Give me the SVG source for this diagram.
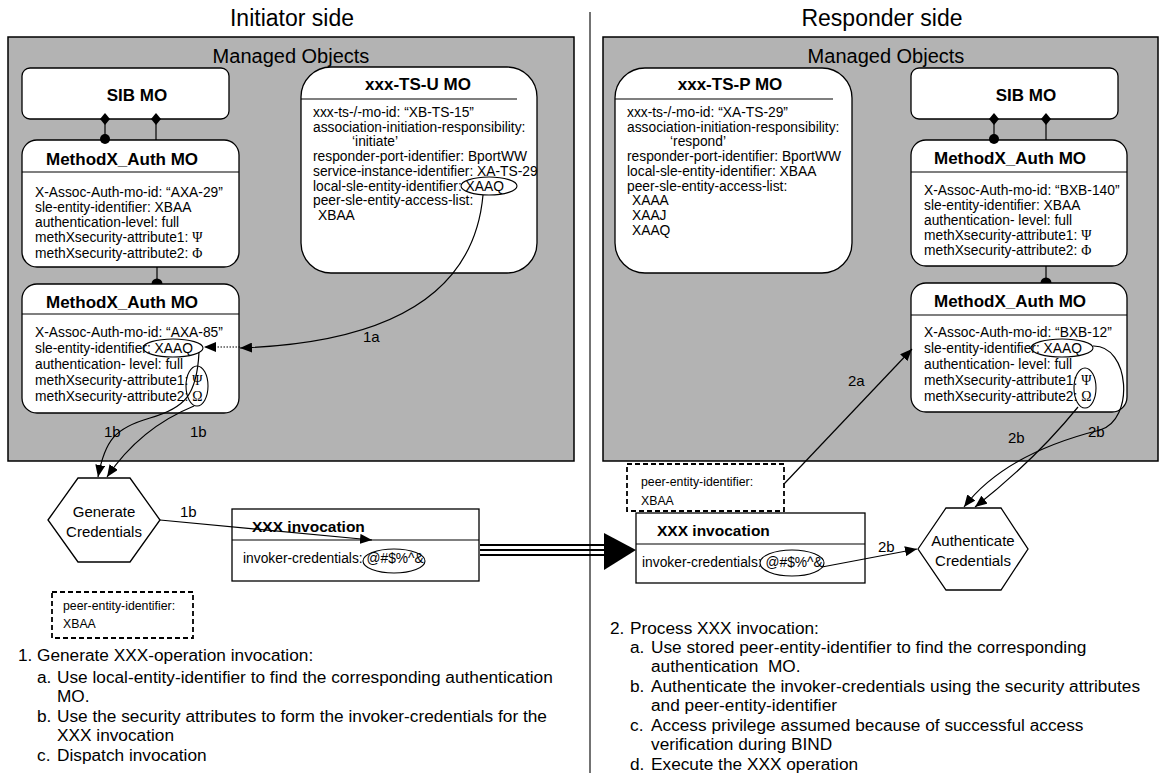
<svg xmlns="http://www.w3.org/2000/svg" width="1166" height="778" viewBox="0 0 1166 778">
<defs>
<style>
text{font-family:"Liberation Sans",Arial,Helvetica,sans-serif;fill:#000}
.title{font-size:23px}
.mo{font-size:20px}
.hd{font-size:17px;font-weight:bold}
.hd2{font-size:15.5px;font-weight:bold}
.b{font-size:13.8px}
.lab{font-size:15px}
.lst{font-size:17.25px}
.sm{font-size:12.3px}
.g{font-family:"Liberation Serif","Times New Roman",serif}
.panel{fill:#b3b3b3;stroke:#000;stroke-width:1.5}
.box{fill:#fff;stroke:#000;stroke-width:1.3}
.sep{stroke:#000;stroke-width:1.2}
.ell{fill:none;stroke:#000;stroke-width:1.1}
.c{fill:none;stroke:#000;stroke-width:1.2}
.dash{fill:#fff;stroke:#000;stroke-width:1.8;stroke-dasharray:5,3}
</style>
<marker id="ah" viewBox="0 0 12 10" refX="12" refY="5" markerWidth="12" markerHeight="10" markerUnits="userSpaceOnUse" orient="auto"><path d="M0,0 L12,5 L0,10 z"/></marker>
</defs>

<rect width="1166" height="778" fill="#fff"/>

<g id="titles">
<text class="title" x="292" y="26" text-anchor="middle">Initiator side</text>
<text class="title" x="882" y="26" text-anchor="middle">Responder side</text>
<line x1="590" y1="12" x2="590" y2="773" stroke="#444" stroke-width="1.5"/>
</g>

<g id="initiator-panel">
<rect class="panel" x="8" y="37" width="566" height="424"/>
<text class="mo" x="291" y="63" text-anchor="middle">Managed Objects</text>
</g>
<g id="responder-panel">
<rect class="panel" x="603" y="37" width="555" height="424"/>
<text class="mo" x="886" y="63" text-anchor="middle">Managed Objects</text>
</g>

<!-- Initiator side nodes -->
<g id="sib-mo-i">
<rect class="box" x="22" y="68" width="207" height="51" rx="8"/>
<text class="hd" x="137" y="101" text-anchor="middle">SIB MO</text>
</g>

<g id="methodx-auth-i1">
<rect class="box" x="22" y="140" width="217" height="127" rx="15"/>
<line class="sep" x1="22" y1="172" x2="239" y2="172"/>
<text class="hd" x="46" y="165">MethodX_Auth MO</text>
<text class="b" x="35" y="197">X-Assoc-Auth-mo-id: “AXA-29”</text>
<text class="b" x="35" y="212">sle-entity-identifier: XBAA</text>
<text class="b" x="35" y="227">authentication-level: full</text>
<text class="b" x="35" y="242">methXsecurity-attribute1: <tspan class="g">Ψ</tspan></text>
<text class="b" x="35" y="258">methXsecurity-attribute2: <tspan class="g">Φ</tspan></text>
</g>

<g id="methodx-auth-i2">
<rect class="box" x="22" y="284" width="217" height="129" rx="15"/>
<line class="sep" x1="22" y1="314" x2="239" y2="314"/>
<text class="hd" x="46" y="308">MethodX_Auth MO</text>
<text class="b" x="35" y="337">X-Assoc-Auth-mo-id: “AXA-85”</text>
<text class="b" x="35" y="353">sle-entity-identifier: XAAQ</text>
<text class="b" x="35" y="369">authentication- level: full</text>
<text class="b" x="35" y="385">methXsecurity-attribute1: <tspan class="g">Ψ</tspan></text>
<text class="b" x="35" y="401">methXsecurity-attribute2: <tspan class="g">Ω</tspan></text>
<ellipse class="ell" cx="173" cy="348" rx="30" ry="9"/>
<ellipse class="ell" cx="197" cy="386" rx="11" ry="20"/>
</g>

<g id="xxx-ts-u-mo">
<rect class="box" x="301" y="67" width="236" height="206" rx="30"/>
<line class="sep" x1="301" y1="99" x2="517" y2="99"/>
<text class="hd" x="418" y="90" text-anchor="middle">xxx-TS-U MO</text>
<text class="b" x="313" y="117">xxx-ts-/-mo-id: “XB-TS-15”</text>
<text class="b" x="313" y="132">association-initiation-responsibility:</text>
<text class="b" x="352" y="146">‘initiate’</text>
<text class="b" x="313" y="161">responder-port-identifier: BportWW</text>
<text class="b" x="313" y="176">service-instance-identifier: XA-TS-29</text>
<text class="b" x="313" y="191">local-sle-entity-identifier: XAAQ</text>
<text class="b" x="313" y="205">peer-sle-entity-access-list:</text>
<text class="b" x="318" y="220">XBAA</text>
<ellipse class="ell" cx="489" cy="186" rx="28" ry="9"/>
</g>

<g id="generate-credentials">
<polygon class="box" points="48,520 78,478 130,478 160,520 130,562 78,562"/>
<text class="lab" x="104" y="517" text-anchor="middle">Generate</text>
<text class="lab" x="104" y="537" text-anchor="middle">Credentials</text>
</g>

<g id="xxx-invocation-i">
<rect class="box" x="232" y="509" width="247" height="72"/>
<line class="sep" x1="232" y1="540" x2="479" y2="540"/>
<text class="hd2" x="252" y="532">XXX invocation</text>
<text class="b" x="243" y="563">invoker-credentials: @#$%^&amp;</text>
<ellipse class="ell" cx="394" cy="561" rx="31" ry="12"/>
</g>

<g id="peer-entity-i">
<rect class="dash" x="52" y="592" width="141" height="46"/>
<text class="sm" x="63" y="610">peer-entity-identifier:</text>
<text class="sm" x="63" y="628">XBAA</text>
</g>

<g id="steps-i">
<text class="lst" x="18" y="661">1.</text><text class="lst" x="37" y="661">Generate XXX-operation invocation:</text>
<text class="lst" x="37" y="683">a.</text><text class="lst" x="57" y="683">Use local-entity-identifier to find the corresponding authentication</text>
<text class="lst" x="57" y="702">MO.</text>
<text class="lst" x="37" y="722">b.</text><text class="lst" x="57" y="722">Use the security attributes to form the invoker-credentials for the</text>
<text class="lst" x="57" y="741">XXX invocation</text>
<text class="lst" x="37" y="761">c.</text><text class="lst" x="57" y="761">Dispatch invocation</text>
</g>

<!-- Responder side nodes -->
<g id="xxx-ts-p-mo">
<rect class="box" x="615" y="68" width="237" height="205" rx="30"/>
<line class="sep" x1="615" y1="99" x2="833" y2="99"/>
<text class="hd" x="730" y="90" text-anchor="middle">xxx-TS-P MO</text>
<text class="b" x="627" y="117">xxx-ts-/-mo-id: “XA-TS-29”</text>
<text class="b" x="627" y="132">association-initiation-responsibility:</text>
<text class="b" x="670" y="146">‘respond’</text>
<text class="b" x="627" y="161">responder-port-identifier: BportWW</text>
<text class="b" x="627" y="176">local-sle-entity-identifier: XBAA</text>
<text class="b" x="627" y="191">peer-sle-entity-access-list:</text>
<text class="b" x="632" y="205">XAAA</text>
<text class="b" x="632" y="220">XAAJ</text>
<text class="b" x="632" y="235">XAAQ</text>
</g>

<g id="sib-mo-r">
<rect class="box" x="911" y="68" width="207" height="51" rx="8"/>
<text class="hd" x="1026" y="101" text-anchor="middle">SIB MO</text>
</g>

<g id="methodx-auth-r1">
<rect class="box" x="911" y="140" width="216" height="126" rx="15"/>
<line class="sep" x1="911" y1="172" x2="1127" y2="172"/>
<text class="hd" x="934" y="164">MethodX_Auth MO</text>
<text class="b" x="924" y="195">X-Assoc-Auth-mo-id: “BXB-140”</text>
<text class="b" x="924" y="210">sle-entity-identifier: XBAA</text>
<text class="b" x="924" y="225">authentication- level: full</text>
<text class="b" x="924" y="240">methXsecurity-attribute1: <tspan class="g">Ψ</tspan></text>
<text class="b" x="924" y="255">methXsecurity-attribute2: <tspan class="g">Φ</tspan></text>
</g>

<g id="methodx-auth-r2">
<rect class="box" x="911" y="283" width="216" height="129" rx="15"/>
<line class="sep" x1="911" y1="315" x2="1127" y2="315"/>
<text class="hd" x="934" y="307">MethodX_Auth MO</text>
<text class="b" x="924" y="337">X-Assoc-Auth-mo-id: “BXB-12”</text>
<text class="b" x="924" y="353">sle-entity-identifier: XAAQ</text>
<text class="b" x="924" y="369">authentication- level: full</text>
<text class="b" x="924" y="385">methXsecurity-attribute1: <tspan class="g">Ψ</tspan></text>
<text class="b" x="924" y="401">methXsecurity-attribute2: <tspan class="g">Ω</tspan></text>
<ellipse class="ell" cx="1062" cy="348" rx="31" ry="9"/>
<ellipse class="ell" cx="1085" cy="388" rx="11" ry="20"/>
</g>

<g id="peer-entity-r">
<rect class="dash" x="627" y="464" width="157" height="47"/>
<text class="sm" x="641" y="486">peer-entity-identifier:</text>
<text class="sm" x="641" y="505">XBAA</text>
</g>

<g id="xxx-invocation-r">
<rect class="box" x="636" y="513" width="229" height="70"/>
<line class="sep" x1="636" y1="544" x2="865" y2="544"/>
<text class="hd2" x="657" y="536">XXX invocation</text>
<text class="b" x="642" y="567">invoker-credentials: @#$%^&amp;</text>
<ellipse class="ell" cx="792" cy="563" rx="32" ry="13"/>
</g>

<g id="authenticate-credentials">
<polygon class="box" points="918,549 946,508 1001,508 1028,549 1001,590 946,590"/>
<text class="lab" x="973" y="546" text-anchor="middle">Authenticate</text>
<text class="lab" x="973" y="566" text-anchor="middle">Credentials</text>
</g>

<g id="steps-r">
<text class="lst" x="610" y="634">2.</text><text class="lst" x="630" y="634">Process XXX invocation:</text>
<text class="lst" x="630" y="653">a.</text><text class="lst" x="651" y="653">Use stored peer-entity-identifier to find the corresponding</text>
<text class="lst" x="651" y="672" xml:space="preserve">authentication  MO.</text>
<text class="lst" x="630" y="692">b.</text><text class="lst" x="651" y="692">Authenticate the invoker-credentials using the security attributes</text>
<text class="lst" x="651" y="711">and peer-entity-identifier</text>
<text class="lst" x="630" y="731">c.</text><text class="lst" x="651" y="731">Access privilege assumed because of successful access</text>
<text class="lst" x="651" y="750">verification during BIND</text>
<text class="lst" x="630" y="770">d.</text><text class="lst" x="651" y="770">Execute the XXX operation</text>
</g>

<!-- Connectors -->
<g id="connectors">
<line class="c" x1="105" y1="119" x2="105" y2="140"/>
<line class="c" x1="156" y1="119" x2="156" y2="140"/>
<polygon points="105,113 110,119 105,125 100,119"/>
<polygon points="156,113 161,119 156,125 151,119"/>
<circle cx="105" cy="139" r="5"/>
<line class="c" x1="157" y1="267" x2="157" y2="284"/>
<path d="M151.5,284 A5.5,5.5 0 0 1 162.5,284 z"/>
<line class="c" x1="994" y1="119" x2="994" y2="140"/>
<line class="c" x1="1046" y1="119" x2="1046" y2="140"/>
<polygon points="994,113 999,119 994,125 989,119"/>
<polygon points="1046,113 1051,119 1046,125 1041,119"/>
<circle cx="994" cy="139" r="5"/>
<line class="c" x1="1046" y1="266" x2="1046" y2="283"/>
<path d="M1040.5,283 A5.5,5.5 0 0 1 1051.5,283 z"/>

<path class="c" d="M483,195 Q470,340 240,348" marker-end="url(#ah)"/>
<path class="c" d="M240,347 L204,347" stroke-dasharray="1.5,1.5" marker-end="url(#ah)"/>
<text class="lab" x="363" y="342">1a</text>

<path class="c" d="M199,352 C197,395 185,408 150,418 S105,440 98,477" marker-end="url(#ah)"/>
<path class="c" d="M194,406 Q140,428 107,477" marker-end="url(#ah)"/>
<text class="lab" x="104" y="437">1b</text>
<text class="lab" x="190" y="437">1b</text>
<path class="c" d="M160,520 L372,540" marker-end="url(#ah)"/>
<text class="lab" x="180" y="517">1b</text>

<line x1="480" y1="545" x2="606" y2="545" stroke="#000" stroke-width="2"/>
<line x1="480" y1="550" x2="606" y2="550" stroke="#000" stroke-width="2"/>
<line x1="480" y1="555" x2="606" y2="555" stroke="#000" stroke-width="2"/>
<polygon points="604,533 636,550 604,570"/>

<path class="c" d="M784,484 L912,349" marker-end="url(#ah)"/>
<text class="lab" x="848" y="386">2a</text>

<path class="c" d="M1093,346 C1130,345 1135,420 1100,430 C1060,440 1000,460 964,507" marker-end="url(#ah)"/>
<path class="c" d="M1078,407 Q1035,460 975,507" marker-end="url(#ah)"/>
<text class="lab" x="1008" y="443">2b</text>
<text class="lab" x="1088" y="437">2b</text>
<path class="c" d="M822,567 L917,549" marker-end="url(#ah)"/>
<text class="lab" x="878" y="552">2b</text>
</g>
</svg>
